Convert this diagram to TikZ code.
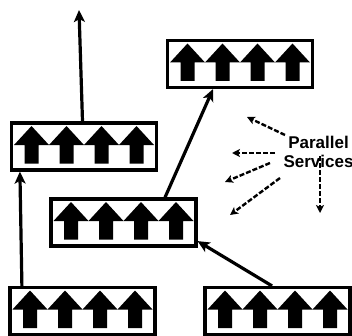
\documentclass[tikz,border=0pt]{standalone}
\usepackage{fontspec}
\setmainfont{Liberation Sans}
\usetikzlibrary{arrows.meta,calc}
\tikzset{
  svc/.style={draw, line width=3.2pt, minimum width=145pt, minimum height=47pt, inner sep=0pt,
    path picture={
      \foreach \c in {-52.5,-17.5,17.5,52.5}{
        \fill[shift={(path picture bounding box.center)}]
          ({\c-17.5},1.5) -- (\c,20.5) -- ({\c+17.5},1.5) -- ({\c+7},1.5) -- ({\c+7},-17)
          -- ({\c-7},-17) -- ({\c-7},1.5) -- cycle;
      }}},
  conn/.style={line width=3.2pt, -{Stealth[length=12pt,width=11pt,inset=3pt]}},
  dconn/.style={line width=2.4pt, dash pattern=on 5pt off 2pt, -{Stealth[length=8pt,width=8pt,inset=2pt]}},
  lbl/.style={font=\bfseries\fontsize{17}{19.5}\selectfont, align=center, inner sep=0pt}
}
\begin{document}
\begin{tikzpicture}[x=1pt,y=1pt]
\useasboundingbox (0,0) rectangle (352,335);
\node[svc] (top) at (240,271) {};
\node[svc] (left) at (84,188.5) {};
\node[svc] (mid) at (123.5,112.5) {};
\node[svc] (bl) at (82.5,24) {};
\node[svc] (br) at (277.5,24) {};
\coordinate (out) at (79,325);
\draw[conn] ([xshift=-1.5pt]left.north) -- (out);
\draw[conn] ([xshift=13.5pt]bl.north west) -- ([xshift=10pt]left.south west);
\draw[conn] ([xshift=41.5pt]mid.north) -- ([xshift=-27pt]top.south);
\draw[conn] ([xshift=-5.5pt]br.north) -- ([yshift=6.5pt]mid.south east);
\node[lbl] (ps) at (318.5,183) {Parallel\\Services};
\coordinate (s1) at (285,200); \coordinate (e1) at (247,218);
\coordinate (s2) at (275,182); \coordinate (e2) at (232,182);
\coordinate (s3) at (270,172); \coordinate (e3) at (225,153);
\coordinate (s4) at (280,157); \coordinate (e4) at (230,120);
\coordinate (s5) at (320,179); \coordinate (e5) at (320,122);
\draw[dconn] (s1) -- (e1);
\draw[dconn] (s2) -- (e2);
\draw[dconn] (s3) -- (e3);
\draw[dconn] (s4) -- (e4);
\draw[dconn] (s5) -- (e5);
\end{tikzpicture}
\end{document}
